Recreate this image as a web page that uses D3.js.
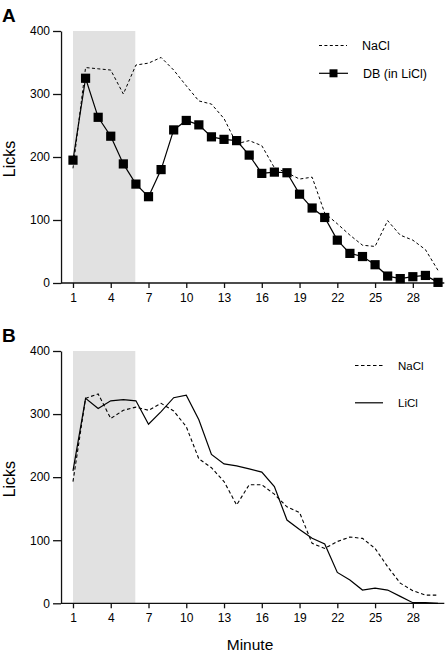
<!DOCTYPE html>
<html><head><meta charset="utf-8">
<script src="https://cdn.jsdelivr.net/npm/d3@7"></script>
<style>body{margin:0;background:#fff}svg{display:block}text{font-family:"Liberation Sans",Arial,Helvetica,sans-serif;fill:#000}</style>
</head><body>
<script>
const minutes = d3.range(1, 31);
const xTicks = [1,4,7,10,13,16,19,22,25,28];
const yTicks = [0,100,200,300,400];
const shade = [1, 5.95];
// Panel A
const naclA = [182,342,340,338,300,346,349,358,338,313,289,284,261,221,226,218,183,175,165,168,111,94,76,60,58,99,76,68,53,20];
const dbA   = [195,325,263,233,189,157,137,180,243,258,251,232,228,226,203,174,176,175,141,119,104,68,47,42,29,11,7,10,12,1];
// Panel B
const naclB = [193,325,332,293,306,311,306,317,305,280,229,215,193,156,188,188,173,153,144,95,87,98,105,103,87,58,32,20,13,13];
const liclB = [210,325,309,321,323,321,284,304,326,330,291,236,221,218,213,208,185,132,117,103,94,49,37,21,24,21,11,1,1,0];

const W = 446, H = 652;
const svg = d3.select("body").append("svg").attr("width", W).attr("height", H);
const x = d3.scaleLinear().domain([0, 30.5]).range([60.4, 444.3]);

function panel(top, bottom, label, labelY, series, legend, legendFont) {
  const y = d3.scaleLinear().domain([0, 400]).range([bottom, top]);
  const g = svg.append("g");
  g.append("rect").attr("x", x(shade[0])).attr("y", y(400))
    .attr("width", x(shade[1]) - x(shade[0])).attr("height", y(0) - y(400)).attr("fill", "#e1e1e1");
  const xa = g.append("g").attr("transform", `translate(0,${y(0)})`)
    .call(d3.axisBottom(x).tickValues(xTicks).tickSize(5).tickPadding(5).tickSizeOuter(0));
  const ya = g.append("g").attr("transform", `translate(${x(0.05)},0)`)
    .call(d3.axisLeft(y).tickValues(yTicks).tickSize(8).tickPadding(3).tickSizeOuter(0));
  [xa, ya].forEach(a => {
    a.selectAll("path,line").attr("stroke", "#111").attr("stroke-width", 1.3);
    a.selectAll("text").attr("font-size", 12).attr("font-family", '"Liberation Sans",Arial,sans-serif');
  });
  xa.select("path.domain").attr("d", `M${x(0.05)},0H${x(30.5)}`);
  g.append("text").attr("x", 2).attr("y", labelY).attr("font-size", 19).attr("font-weight", "bold").text(label);
  g.append("text").attr("transform", `translate(15,${(top + bottom) / 2 + 2}) rotate(-90)`)
    .attr("text-anchor", "middle").attr("font-size", 16).text("Licks");
  const line = d3.line().x((d, i) => x(minutes[i])).y(d => y(d));
  series.forEach(s => {
    g.append("path").datum(s.values).attr("d", line).attr("fill", "none")
      .attr("stroke", "#000").attr("stroke-width", s.width).attr("stroke-dasharray", s.dash || null);
    if (s.square) {
      g.selectAll(null).data(s.values).enter().append("rect")
        .attr("x", (d, i) => x(minutes[i]) - 4.6).attr("y", d => y(d) - 4.6)
        .attr("width", 9.2).attr("height", 9.2).attr("fill", "#000");
    }
  });
  legend.forEach(l => {
    g.append("line").attr("x1", l.x1).attr("x2", l.x2).attr("y1", l.y).attr("y2", l.y)
      .attr("stroke", "#000").attr("stroke-width", l.width).attr("stroke-dasharray", l.dash || null);
    if (l.square) g.append("rect").attr("x", (l.x1 + l.x2) / 2 - 4).attr("y", l.y - 4).attr("width", 8).attr("height", 8).attr("fill", "#000");
    g.append("text").attr("x", l.tx).attr("y", l.y + 4.6).attr("font-size", legendFont).text(l.name);
  });
  return y;
}

panel(31, 283, "A", 22,
  [{values: naclA, width: 1, dash: "3,2.4"}, {values: dbA, width: 1.2, square: true}],
  [{name: "NaCl", x1: 319, x2: 347, y: 45.5, tx: 362, width: 1, dash: "3,2.4"},
   {name: "DB (in LiCl)", x1: 319, x2: 348, y: 73.3, tx: 363, width: 1.2, square: true}], 12.5);

panel(351, 603.3, "B", 342,
  [{values: naclB, width: 1.1, dash: "3.5,2.5"}, {values: liclB, width: 1.2}],
  [{name: "NaCl", x1: 355, x2: 383, y: 365.5, tx: 398, width: 1.1, dash: "3.5,2.5"},
   {name: "LiCl", x1: 355, x2: 383, y: 402.8, tx: 398, width: 1.2}], 11.5);

svg.append("text").attr("x", 250).attr("y", 650).attr("text-anchor", "middle").attr("font-size", 15.5).text("Minute");
</script>
</body></html>
